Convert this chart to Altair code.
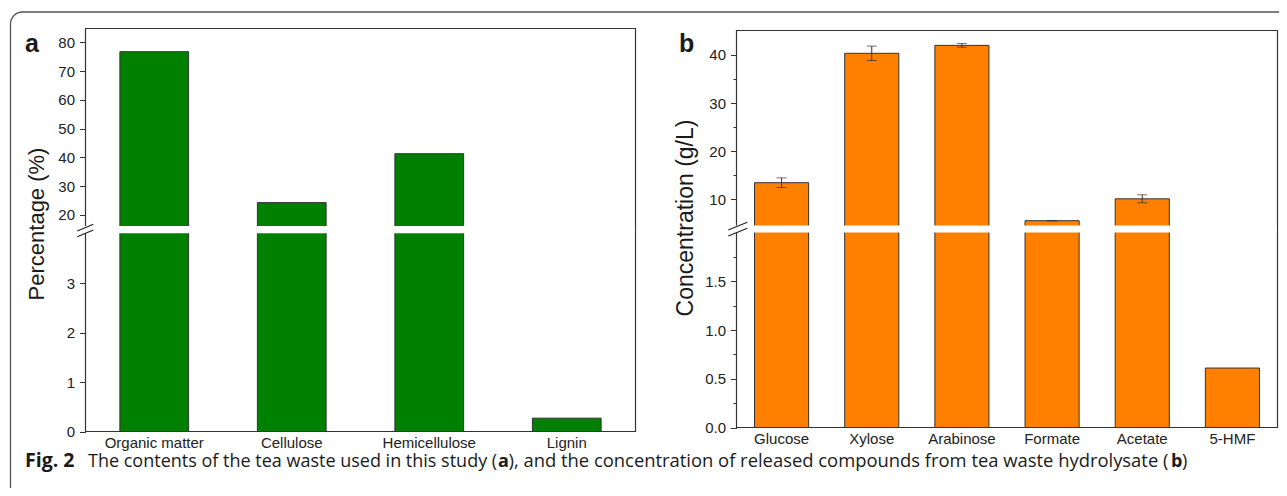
import altair as alt
import pandas as pd

# ---------------- data ----------------
cats_a = ["Organic matter", "Cellulose", "Hemicellulose", "Lignin"]
vals_a = [76.75, 24.3, 41.3, 0.27]

cats_b = ["Glucose", "Xylose", "Arabinose", "Formate", "Acetate", "5-HMF"]
vals_b = [13.45, 40.35, 42.0, 5.55, 10.1, 0.61]
err_b = [1.0, 1.5, 0.4, 0.05, 0.83, 0.0]

ticks_a_up = [20, 30, 40, 50, 60, 70, 80]
ticks_a_low = [0, 1, 2, 3]
ticks_b_up = [10, 20, 30, 40]
minor_b_up = [15, 25, 35]
ticks_b_low = [0.0, 0.5, 1.0, 1.5]
minor_b_low = [0.25, 0.75, 1.25, 1.75]

caption_bold = "Fig. 2"
caption_1 = "The contents of the tea waste used in this study ("
caption_2 = "), and the concentration of released compounds from tea waste hydrolysate ("
caption_3 = ")"

df_a = pd.DataFrame({"cat": cats_a, "val": vals_a})
df_b = pd.DataFrame({"cat": cats_b, "val": vals_b, "err": err_b})
df_b["lo"] = df_b["val"] - df_b["err"]
df_b["hi"] = df_b["val"] + df_b["err"]
df_err = df_b[df_b["err"] > 0]
one = pd.DataFrame({"k": [0]})

# ---------------- layout (page pixels) ----------------
M = 8
W, H = 1271, 480


def P(v):
    return v - M


A_L, A_R, A_T, A_B = 85.5, 635.5, 28.5, 431.5
A_GAP = (226.0, 233.3)
A_MID = 229.7
B_L, B_R, B_T, B_B = 736.5, 1277.5, 30.5, 427.5
B_GAP = (225.5, 232.5)
B_MID = 229.0

FONT = "Liberation Sans"
CAP_FONT = "Open Sans"
GREEN = "#008000"
ORANGE = "#ff8000"
EDGE = "#333333"

xs_a = alt.Scale(domain=cats_a, range=[P(A_L), P(A_R)], paddingInner=0.5, paddingOuter=0.25)
xs_b = alt.Scale(domain=cats_b, range=[P(B_L), P(B_R)], paddingInner=0.4, paddingOuter=0.2)

ys_a_up = alt.Scale(domain=[14.89, 84.80], range=[P(A_MID), P(A_T)], clamp=True, nice=False, zero=False)
ys_a_low = alt.Scale(domain=[0, 4.085], range=[P(A_B), P(A_MID)], clamp=True, nice=False, zero=False)
ys_b_up = alt.Scale(domain=[3.825, 45.09], range=[P(B_MID), P(B_T)], clamp=True, nice=False, zero=False)
ys_b_low = alt.Scale(domain=[0, 2.0366], range=[P(B_B), P(B_MID)], clamp=True, nice=False, zero=False)


def yaxis(values, left, fmt=None, minor=False):
    kw = dict(
        orient="left", offset=-P(left), values=values, title=None, domain=False,
        grid=False, tickColor=EDGE, tickWidth=1, labelFont=FONT, labelFontSize=15,
        labelColor="#222222", labelPadding=5,
    )
    if fmt:
        kw["format"] = fmt
    if minor:
        kw.update(labels=False, tickSize=3.5)
    else:
        kw.update(tickSize=6)
    return alt.Axis(**kw)


def xaxis(bottom):
    return alt.Axis(
        orient="bottom", offset=P(bottom) - H, title=None, domain=False, ticks=False,
        labelAngle=0, labelFont=FONT, labelFontSize=15, labelColor="#222222",
        labelPadding=4, grid=False,
    )


def frame(l, r, t, b):
    return alt.Chart(one).mark_rect(fill=None, stroke=EDGE, strokeWidth=1.2).encode(
        x=alt.value(P(l)), x2=alt.value(P(r)), y=alt.value(P(t)), y2=alt.value(P(b))
    )


def band(l, r, gap):
    return alt.Chart(one).mark_rect(fill="white", stroke=None).encode(
        x=alt.value(P(l) - 1.5), x2=alt.value(P(r) - 1), y=alt.value(P(gap[0])), y2=alt.value(P(gap[1]))
    )


def slash(x1, y1, x2, y2):
    return alt.Chart(one).mark_rule(color="#222222", strokeWidth=1.2).encode(
        x=alt.value(P(x1)), y=alt.value(P(y1)), x2=alt.value(P(x2)), y2=alt.value(P(y2))
    )


def text(s, x, y, size, font=FONT, weight="normal", angle=0, align="left", baseline="alphabetic"):
    return alt.Chart(one).mark_text(
        text=s, font=font, fontSize=size, fontWeight=weight, angle=angle,
        align=align, baseline=baseline, color="#1a1a1a",
    ).encode(x=alt.value(P(x)), y=alt.value(P(y)))


# ---------------- panel a ----------------
bars_a_up = alt.Chart(df_a).mark_bar(color=GREEN, stroke=EDGE, strokeWidth=1).encode(
    x=alt.X("cat:N", scale=xs_a, sort=cats_a, axis=None),
    y=alt.Y("val:Q", scale=ys_a_up, axis=yaxis(ticks_a_up, A_L)),
    y2=alt.datum(0),
)
bars_a_low = alt.Chart(df_a).mark_bar(color=GREEN, stroke=EDGE, strokeWidth=1).encode(
    x=alt.X("cat:N", scale=xs_a, sort=cats_a, axis=xaxis(A_B)),
    y=alt.Y("val:Q", scale=ys_a_low, axis=yaxis(ticks_a_low, A_L)),
    y2=alt.datum(0),
)

# ---------------- panel b ----------------
bars_b_up = alt.Chart(df_b).mark_bar(color=ORANGE, stroke=EDGE, strokeWidth=1).encode(
    x=alt.X("cat:N", scale=xs_b, sort=cats_b, axis=None),
    y=alt.Y("val:Q", scale=ys_b_up, axis=yaxis(ticks_b_up, B_L)),
    y2=alt.datum(0),
)
minor_b_up_l = alt.Chart(df_b).mark_point(opacity=0).encode(
    x=alt.X("cat:N", scale=xs_b, sort=cats_b, axis=None),
    y=alt.Y("val:Q", scale=ys_b_up, axis=yaxis(minor_b_up, B_L, minor=True)),
)
err_rule = alt.Chart(df_err).mark_rule(color="#333333", strokeWidth=1).encode(
    x=alt.X("cat:N", scale=xs_b, sort=cats_b, axis=None),
    y=alt.Y("lo:Q", scale=ys_b_up, axis=None),
    y2="hi:Q",
)
err_cap_hi = alt.Chart(df_err).mark_tick(color="#333333", size=10, thickness=1).encode(
    x=alt.X("cat:N", scale=xs_b, sort=cats_b, axis=None),
    y=alt.Y("hi:Q", scale=ys_b_up, axis=None),
)
err_cap_lo = alt.Chart(df_err).mark_tick(color="#333333", size=10, thickness=1).encode(
    x=alt.X("cat:N", scale=xs_b, sort=cats_b, axis=None),
    y=alt.Y("lo:Q", scale=ys_b_up, axis=None),
)
bars_b_low = alt.Chart(df_b).mark_bar(color=ORANGE, stroke=EDGE, strokeWidth=1).encode(
    x=alt.X("cat:N", scale=xs_b, sort=cats_b, axis=xaxis(B_B)),
    y=alt.Y("val:Q", scale=ys_b_low, axis=yaxis(ticks_b_low, B_L, fmt=".1f")),
    y2=alt.datum(0),
)
minor_b_low_l = alt.Chart(df_b).mark_point(opacity=0).encode(
    x=alt.X("cat:N", scale=xs_b, sort=cats_b, axis=None),
    y=alt.Y("val:Q", scale=ys_b_low, axis=yaxis(minor_b_low, B_L, minor=True)),
)

# ---------------- decorations ----------------
border = alt.Chart(one).mark_rect(fill=None, stroke="#555555", strokeWidth=1.3, cornerRadius=12).encode(
    x=alt.value(P(10.5)), y=alt.value(P(12.0)), x2=alt.value(1500), y2=alt.value(800)
)

CAP_Y = 467
layers = [
    border,
    frame(A_L, A_R, A_T, A_B),
    frame(B_L, B_R, B_T, B_B),
    bars_a_up, bars_a_low,
    bars_b_up, minor_b_up_l, bars_b_low, minor_b_low_l,
    err_rule, err_cap_hi, err_cap_lo,
    band(A_L, A_R, A_GAP),
    band(B_L, B_R, B_GAP),
    slash(77.3, 231.0, 93.3, 224.3),
    slash(77.3, 236.7, 93.3, 230.0),
    slash(728.3, 230.0, 747.3, 222.3),
    slash(728.3, 236.0, 747.3, 228.3),
    text("a", 25, 52, 25, weight="bold"),
    text("b", 679, 52, 25, weight="bold"),
    text("Percentage (%)", 37, 224, 22, angle=270, align="center", baseline="middle"),
    text("Concentration (g/L)", 686, 218, 23, angle=270, align="center", baseline="middle"),
    text(caption_bold, 25, CAP_Y, 19.5, font=CAP_FONT, weight="bold"),
    text(caption_1, 88, CAP_Y, 18, font=CAP_FONT),
    text("a", 498, CAP_Y, 18, font=CAP_FONT, weight="bold"),
    text(caption_2, 508.5, CAP_Y, 18.4, font=CAP_FONT),
    text("b", 1171, CAP_Y, 18, font=CAP_FONT, weight="bold"),
    text(caption_3, 1182, CAP_Y, 18, font=CAP_FONT),
]

chart = alt.layer(*layers).resolve_scale(x="independent", y="independent").properties(
    width=W, height=H, autosize=alt.AutoSizeParams(type="none"), padding=0
).configure_view(stroke=None)

chart.save("out.html", embed_options={"renderer": "svg", "actions": False})
